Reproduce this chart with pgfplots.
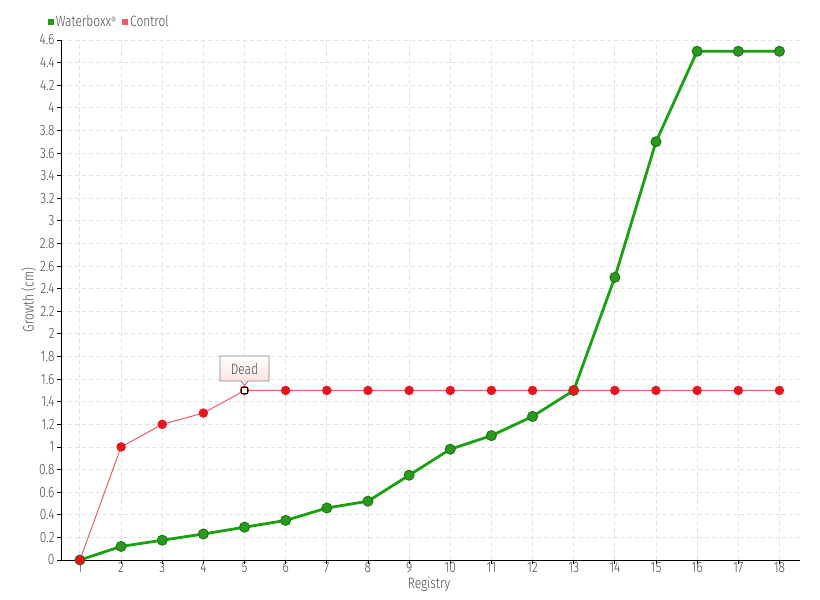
\documentclass[border=0pt]{standalone}
\usepackage{pgfplots}
\pgfplotsset{compat=1.18}
\usetikzlibrary{shapes.callouts}
\usepackage{fontspec}
\setmainfont[FakeStretch=0.8]{Fira Sans Light}
\definecolor{txt}{HTML}{4A4A4A}
\definecolor{gline}{HTML}{1BA012}
\definecolor{gfill}{HTML}{2A9A1E}
\definecolor{gdraw}{HTML}{1E7816}
\definecolor{rline}{HTML}{F25C66}
\definecolor{rfill}{HTML}{E8141E}
\definecolor{gridc}{HTML}{E2E2E2}
\begin{document}
\begin{tikzpicture}
\path[use as bounding box] (-61bp,-40bp) rectangle (759bp,560bp);
\begin{axis}[
  at={(0,0)}, anchor=south west,
  scale only axis, width=739bp, height=520bp,
  xmin=0.54, xmax=18.5, ymin=0, ymax=4.6,
  xtick={1,...,18},
  ytick={0,0.2,0.4,0.6,0.8,1,1.2,1.4,1.6,1.8,2,2.2,2.4,2.6,2.8,3,3.2,3.4,3.6,3.8,4,4.2,4.4,4.6},
  axis lines=left, axis line style={-, black, line width=1bp},
  grid=major, major grid style={gridc, dash pattern=on 4bp off 3bp, line width=0.9bp},
  tick align=outside, major tick length=4bp, tick style={black, line width=0.9bp},
  ticklabel style={font=\fontsize{15}{15}\selectfont, text=txt},
  xticklabel style={yshift=3bp, inner ysep=1bp},
  yticklabel style={xshift=1bp},
  /pgf/number format/assume math mode=true,
  xlabel={Registry}, ylabel={Growth (cm)},
  label style={font=\fontsize{15}{15}\selectfont, text=txt},
  x label style={at={(axis description cs:0.498,-0.047)}, anchor=center, inner ysep=1bp},
  y label style={at={(axis description cs:-0.044,0.5)}, anchor=center},
  clip=false,
  legend columns=2,
  legend style={at={(axis description cs:-0.018,1.0346)}, anchor=west, draw=none, fill=none,
    inner sep=0pt, font=\fontsize{15}{15}\selectfont, text=txt,
    /tikz/every even column/.append style={column sep=4bp},
    nodes={inner xsep=2bp}},
  legend image code/.code={\fill[#1, draw=none] (0bp,-3bp) rectangle (6bp,3bp);},
]
\addplot[gline, line width=2.8bp, mark=*, mark size=5bp,
  mark options={fill=gfill, draw=gdraw, line width=1bp}] coordinates {
(1,0)(2,0.12)(3,0.175)(4,0.23)(5,0.29)(6,0.35)(7,0.46)(8,0.52)(9,0.75)(10,0.98)
(11,1.1)(12,1.27)(13,1.5)(14,2.5)(15,3.7)(16,4.5)(17,4.5)(18,4.5)};
\addlegendentry{Waterboxx\raisebox{2.5bp}{\fontsize{10}{10}\selectfont ®}}
\addplot[rline, line width=1bp, mark=*, mark size=4.2bp,
  mark options={fill=rfill, draw=rfill}] coordinates {
(1,0)(2,1.0)(3,1.2)(4,1.3)(5,1.5)(6,1.5)(7,1.5)(8,1.5)(9,1.5)(10,1.5)
(11,1.5)(12,1.5)(13,1.5)(14,1.5)(15,1.5)(16,1.5)(17,1.5)(18,1.5)};
\addlegendentry{Control}
\addplot[forget plot, only marks, mark=square*, mark size=3bp,
  mark options={fill=white, draw=black, line width=1.2bp}] coordinates {(5,1.5)};
\coordinate (p5) at (axis cs:5,1.5);
\end{axis}
\node[rectangle callout, draw=gray, line width=0.8bp, top color=white, bottom color=red!13,
  callout absolute pointer={([yshift=5bp]p5)}, anchor=south,
  minimum width=49bp, minimum height=25bp, inner sep=2bp,
  font=\fontsize{15}{15}\selectfont, text=txt] at ([yshift=9bp]p5) {Dead};
\end{tikzpicture}
\end{document}
